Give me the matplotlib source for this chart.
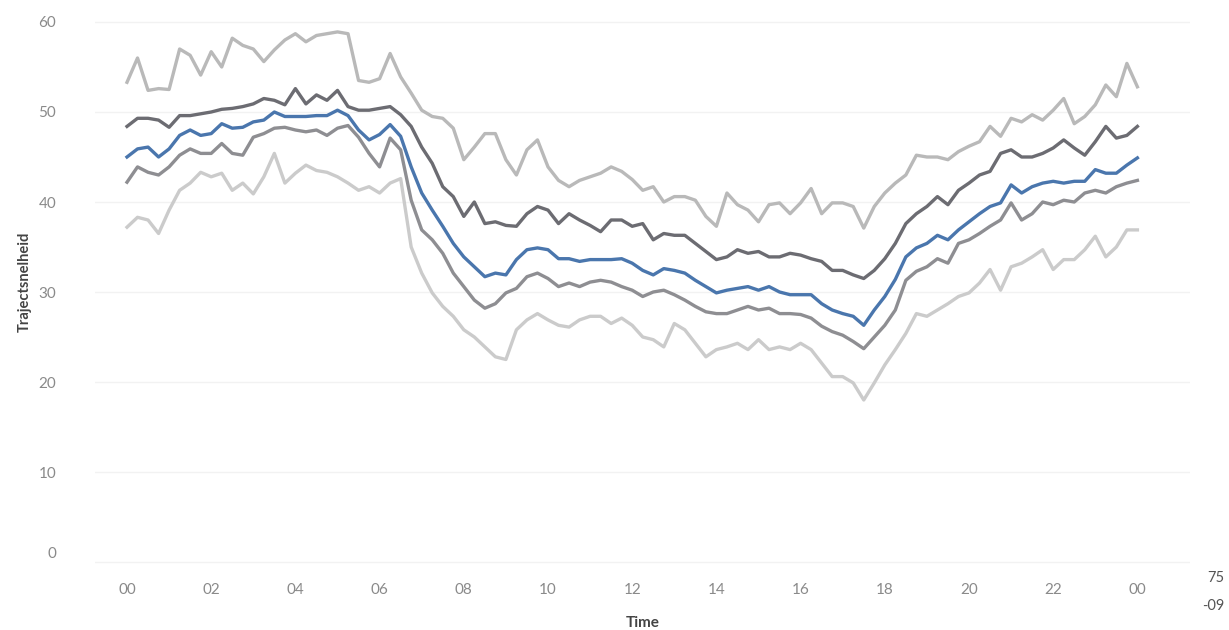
import numpy as np
import matplotlib
matplotlib.use("Agg")
import matplotlib.pyplot as plt
import matplotlib.transforms as mtransforms

# time in hours, 15-minute steps from 00:00 to 24:00
hours = np.arange(0, 24.01, 0.25)

p90 = [53.3, 56.0, 52.4, 52.6, 52.5, 57.0, 56.3, 54.1, 56.7, 55.0, 58.2, 57.4,
       57.0, 55.6, 56.9, 58.0, 58.7, 57.8, 58.5, 58.7, 58.9, 58.7, 53.5, 53.3,
       53.7, 56.5, 53.9, 52.1, 50.2, 49.5, 49.3, 48.2, 44.7, 46.1, 47.6, 47.6,
       44.7, 43.0, 45.8, 46.9, 43.9, 42.4, 41.7, 42.4, 42.8, 43.2, 43.9, 43.4,
       42.5, 41.3, 41.7, 40.0, 40.6, 40.6, 40.2, 38.4, 37.3, 41.0, 39.7, 39.1,
       37.8, 39.7, 39.9, 38.7, 39.9, 41.5, 38.7, 39.9, 39.9, 39.5, 37.1, 39.5,
       41.0, 42.1, 43.0, 45.2, 45.0, 45.0, 44.7, 45.6, 46.2, 46.7, 48.4, 47.3,
       49.3, 48.9, 49.7, 49.1, 50.2, 51.5, 48.7, 49.5, 50.8, 53.0, 51.7, 55.4,
       52.8]

p75 = [48.4, 49.3, 49.3, 49.1, 48.3, 49.6, 49.6, 49.8, 50.0, 50.3, 50.4, 50.6,
       50.9, 51.5, 51.3, 50.8, 52.6, 50.9, 51.9, 51.3, 52.4, 50.6, 50.2, 50.2,
       50.4, 50.6, 49.7, 48.4, 46.1, 44.3, 41.7, 40.6, 38.4, 40.0, 37.6, 37.8,
       37.4, 37.3, 38.7, 39.5, 39.1, 37.6, 38.7, 38.0, 37.4, 36.7, 38.0, 38.0,
       37.3, 37.6, 35.8, 36.5, 36.3, 36.3, 35.4, 34.5, 33.6, 33.9, 34.7, 34.3,
       34.5, 33.9, 33.9, 34.3, 34.1, 33.7, 33.4, 32.4, 32.4, 31.9, 31.5, 32.4,
       33.7, 35.4, 37.6, 38.7, 39.5, 40.6, 39.7, 41.3, 42.1, 43.0, 43.4, 45.4,
       45.8, 45.0, 45.0, 45.4, 46.0, 46.9, 46.0, 45.2, 46.7, 48.4, 47.1, 47.4,
       48.4]

median = [45.0, 45.9, 46.1, 45.0, 45.9, 47.4, 48.0, 47.4, 47.6, 48.7, 48.2, 48.3,
          48.9, 49.1, 50.0, 49.5, 49.5, 49.5, 49.6, 49.6, 50.2, 49.6, 48.0, 46.9,
          47.5, 48.6, 47.3, 43.9, 41.0, 39.1, 37.3, 35.4, 33.9, 32.8, 31.7, 32.1,
          31.9, 33.6, 34.7, 34.9, 34.7, 33.7, 33.7, 33.4, 33.6, 33.6, 33.6, 33.7,
          33.2, 32.4, 31.9, 32.6, 32.4, 32.1, 31.3, 30.6, 29.9, 30.2, 30.4, 30.6,
          30.2, 30.6, 30.0, 29.7, 29.7, 29.7, 28.7, 28.0, 27.6, 27.3, 26.3, 28.0,
          29.5, 31.4, 33.9, 34.9, 35.4, 36.3, 35.8, 36.9, 37.8, 38.7, 39.5, 39.9,
          41.9, 41.0, 41.7, 42.1, 42.3, 42.1, 42.3, 42.3, 43.6, 43.2, 43.2, 44.1,
          44.9]

p25 = [42.2, 43.9, 43.3, 43.0, 43.9, 45.2, 45.9, 45.4, 45.4, 46.5, 45.4, 45.2,
       47.2, 47.6, 48.2, 48.3, 48.0, 47.8, 48.0, 47.4, 48.2, 48.5, 47.2, 45.4,
       43.9, 47.1, 45.8, 40.2, 36.9, 35.8, 34.3, 32.1, 30.6, 29.1, 28.2, 28.7,
       29.9, 30.4, 31.7, 32.1, 31.5, 30.6, 31.0, 30.6, 31.1, 31.3, 31.1, 30.6,
       30.2, 29.5, 30.0, 30.2, 29.7, 29.1, 28.4, 27.8, 27.6, 27.6, 28.0, 28.4,
       28.0, 28.2, 27.6, 27.6, 27.5, 27.1, 26.2, 25.6, 25.2, 24.5, 23.7, 25.0,
       26.3, 28.0, 31.3, 32.3, 32.8, 33.7, 33.2, 35.4, 35.8, 36.5, 37.3, 38.0,
       39.9, 38.0, 38.7, 40.0, 39.7, 40.2, 40.0, 41.0, 41.3, 41.0, 41.7, 42.1,
       42.4]

p10 = [37.2, 38.3, 38.0, 36.5, 39.1, 41.3, 42.1, 43.3, 42.8, 43.2, 41.3, 42.1,
       40.9, 42.8, 45.4, 42.1, 43.2, 44.1, 43.5, 43.3, 42.8, 42.1, 41.3, 41.7,
       41.0, 42.1, 42.6, 35.0, 32.1, 29.9, 28.4, 27.3, 25.8, 25.0, 23.9, 22.8,
       22.5, 25.8, 26.9, 27.6, 26.9, 26.3, 26.1, 26.9, 27.3, 27.3, 26.5, 27.1,
       26.3, 25.0, 24.7, 23.9, 26.5, 25.8, 24.3, 22.8, 23.6, 23.9, 24.3, 23.6,
       24.7, 23.6, 23.9, 23.6, 24.3, 23.6, 22.1, 20.6, 20.6, 19.9, 18.0, 19.9,
       21.9, 23.6, 25.4, 27.6, 27.3, 28.0, 28.7, 29.5, 29.9, 31.0, 32.5, 30.2,
       32.8, 33.2, 33.9, 34.7, 32.5, 33.6, 33.6, 34.7, 36.2, 33.9, 35.0, 36.9,
       36.9]

xtick_pos = list(range(0, 25, 2))
xtick_labels = ["00", "02", "04", "06", "08", "10", "12", "14", "16", "18", "20", "22", "00"]
ytick_pos = [0, 10, 20, 30, 40, 50, 60]

plt.rcParams['font.family'] = ['Lato', 'DejaVu Sans']

fig = plt.figure(figsize=(12.29, 6.30), dpi=100)
ax = fig.add_axes([95 / 1229, (630 - 564.7) / 630, (1190 - 95) / 1229, (564.7 - 10.3) / 630])

lw = 2.4
ax.plot(hours, p10, color="#cbcbcb", lw=lw, solid_joinstyle="round", zorder=2)
ax.plot(hours, p90, color="#b9b9b9", lw=lw, solid_joinstyle="round", zorder=2)
ax.plot(hours, p25, color="#8e8e92", lw=lw, solid_joinstyle="round", zorder=3)
ax.plot(hours, p75, color="#6c6c72", lw=lw, solid_joinstyle="round", zorder=3)
ax.plot(hours, median, color="#4a76ad", lw=lw, solid_joinstyle="round", zorder=4)

ax.set_xlim((95 - 127) / 42.1, (1190 - 127) / 42.1)
ax.set_ylim(-0.3, 61.3)

ax.set_xticks(xtick_pos)
ax.set_xticklabels(xtick_labels)
ax.set_yticks(ytick_pos)
ax.tick_params(axis="both", length=0, colors="#8a8a8a", labelsize=11)
ax.tick_params(axis="x", pad=13)
ax.tick_params(axis="y", pad=28)

# the "0" label sits slightly above its line in the reference
zero_lbl = ax.get_yticklabels()[0]
zero_lbl.set_transform(zero_lbl.get_transform() +
                       mtransforms.ScaledTranslation(0, 10 / 100, fig.dpi_scale_trans))

for s in ax.spines.values():
    s.set_visible(False)
ax.grid(axis="y", color="#f2f2f2", lw=1.0, zorder=0)
ax.grid(axis="x", visible=False)

ax.set_xlabel("Time", fontsize=11, fontweight="bold", color="#444444", labelpad=14)
fig.text(25 / 1229, 1 - 282 / 630, "Trajectsnelheid", rotation=90, fontsize=10.5,
         fontweight="bold", color="#444444", ha="center", va="center")

fig.text(1216 / 1229, 1 - 578 / 630, "75", fontsize=10.5, color="#555555", ha="center", va="center")
fig.text(1213 / 1229, 1 - 606 / 630, "-09", fontsize=10.5, color="#555555", ha="center", va="center")

fig.savefig("out.png", dpi=100, facecolor="white")
